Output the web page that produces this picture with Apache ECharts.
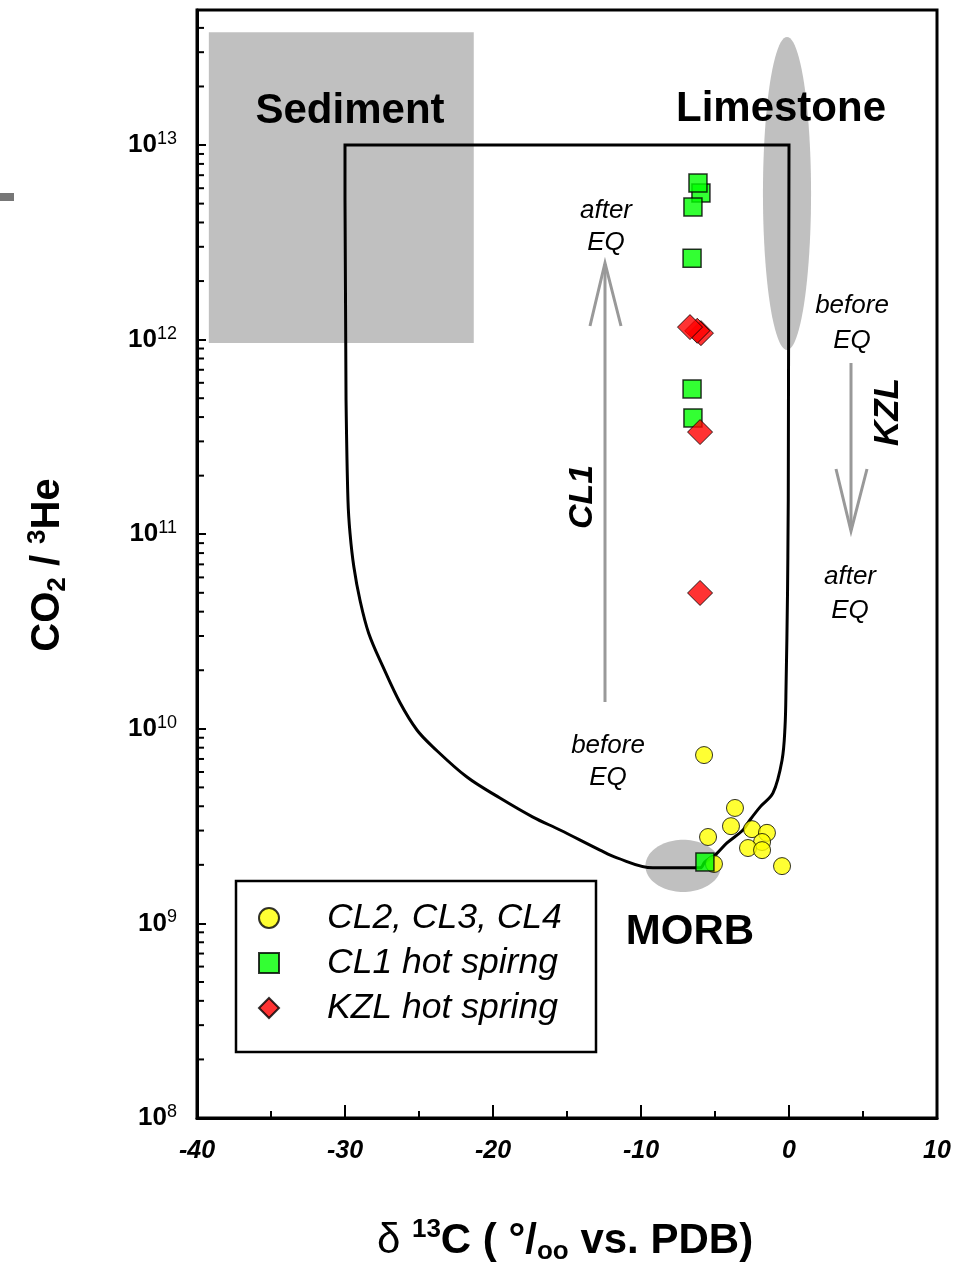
<!DOCTYPE html>
<html><head><meta charset="utf-8">
<script src="https://cdn.jsdelivr.net/npm/echarts@6/dist/echarts.min.js"></script>
<style>html,body{margin:0;padding:0;background:#fff}#c{width:958px;height:1274px}</style>
</head><body><div id="c"></div>
<script>
// ---- data ----
const cl234X = [-5.74, -3.65, -3.92, -5.47, -2.50, -1.49, -1.82, -2.77, -1.82, -0.47, -5.07];
const cl234Y = [7.33e9, 3.92e9, 3.16e9, 2.78e9, 3.05e9, 2.92e9, 2.62e9, 2.44e9, 2.38e9, 1.97e9, 2.02e9];
const cl1X = [-5.95, -6.15, -6.49, -6.55, -6.55, -6.49, -5.68];
const cl1Y = [5.67e12, 6.38e12, 4.80e12, 2.62e12, 5.58e11, 3.96e11, 2.07e9];
const kzlX = [-5.95, -6.2, -6.69, -6.01, -6.01];
const kzlY = [1.08e12, 1.11e12, 1.16e12, 3.35e11, 4.99e10];
// envelope: straight top part and curved lower part
const envTopX = [-29.93, -30, -30, 0, -0.05];
const envTopY = [4.9e11, 5.2e12, 1e13, 1e13, 1.5e11];
const envCurveX = [-0.05, -0.1, -0.2, -0.27, -0.47, -1.08, -1.96, -2.64, -3.11, -4.19, -5.0, -5.68, -6.01, -9.19, -11.62, -12.77, -15.47, -17.30, -19.53, -21.76, -24.05, -25.14, -26.28, -27.43, -28.40, -28.99, -29.40, -29.66, -29.80, -29.93];
const envCurveY = [1.5e11, 5.0e10, 1.64e10, 1.02e10, 6.9e9, 4.68e9, 3.96e9, 3.40e9, 3.02e9, 2.59e9, 2.24e9, 2.07e9, 1.93e9, 1.93e9, 2.17e9, 2.38e9, 3.02e9, 3.52e9, 4.41e9, 5.65e9, 8.06e9, 9.86e9, 1.36e10, 2.08e10, 3.10e10, 4.59e10, 6.78e10, 1.01e11, 1.50e11, 4.9e11];
// regions: [xmin, ymin, xmax, ymax]
const sedimentBox = [-39.2, 9.6e11, -21.3, 3.8e13];
const limestoneEllipse = [-1.76, 8.85e11, 1.49, 3.59e13];
const morbEllipse = [-9.7, 1.45e9, -4.6, 2.69e9];
const seriesNames = ['CL2, CL3, CL4', 'CL1 hot spirng', 'KZL hot spring'];
const xTicks = [-40, -30, -20, -10, 0, 10];
const yDecades = [8, 9, 10, 11, 12, 13];

// ---- build ----
const zip = (a, b) => a.map((v, i) => [v, b[i]]);
const yMin = 1e8, yMax = Math.pow(10, 13.694);
const minorTicks = [];
for (let d = 8; d <= 13; d++) for (let k = 2; k <= 9; k++) { const v = k * Math.pow(10, d); if (v < yMax) minorTicks.push([xTicks[0], v]); }
const FONT = "'Liberation Sans', Arial, sans-serif";

const chart = echarts.init(document.getElementById('c'), null, {renderer: 'canvas'});
const regionData = [sedimentBox.concat([0]), limestoneEllipse.concat([1]), morbEllipse.concat([1])];

chart.setOption({
  animation: false,
  backgroundColor: '#fff',
  grid: {left: 197, right: 21, top: 10, bottom: 156, show: true, borderColor: '#000', borderWidth: 3, backgroundColor: 'transparent'},
  xAxis: {
    type: 'value', min: -40, max: 10, interval: 10,
    axisLine: {show: true, onZero: false, lineStyle: {color: '#000', width: 3}},
    axisTick: {show: true, inside: true, length: 13, lineStyle: {color: '#000', width: 2}},
    minorTick: {show: true, splitNumber: 2, length: 7, lineStyle: {color: '#000', width: 2}},
    splitLine: {show: false},
    axisLabel: {margin: 21, color: '#000', fontSize: 25, fontWeight: 'bold', fontStyle: 'italic', fontFamily: FONT, showMinLabel: true, showMaxLabel: true}
  },
  yAxis: {
    type: 'log', logBase: 10, min: yMin, max: yMax,
    axisLine: {show: true, onZero: false, lineStyle: {color: '#000', width: 3}},
    axisTick: {show: true, inside: true, length: 9, lineStyle: {color: '#000', width: 2}},
    minorTick: {show: false},
    splitLine: {show: false},
    axisLabel: {
      margin: 20, color: '#000', fontFamily: FONT,
      formatter: function (v) {
        const l = Math.log10(v), e = Math.round(l);
        if (Math.abs(l - e) > 1e-6 || yDecades.indexOf(e) < 0) return '';
        return '{b|10}{s|' + e + '}';
      },
      rich: {
        b: {fontSize: 26, fontWeight: 'bold', fontFamily: FONT, color: '#000', lineHeight: 30},
        s: {fontSize: 18, fontFamily: FONT, color: '#000', lineHeight: 20, verticalAlign: 'top'}
      }
    }
  },
  legend: {
    show: true, orient: 'vertical', left: 258, top: 900, padding: 0, itemGap: 9,
    itemWidth: 20, itemHeight: 20, selectedMode: false,
    data: seriesNames,
    textStyle: {fontSize: 35.5, fontStyle: 'italic', fontFamily: FONT, color: '#000', padding: [0, 0, 0, 43]}
  },
  series: [
    {
      type: 'custom', name: 'regions', z: 1, silent: true, clip: false,
      data: regionData, encode: {x: [0, 2], y: [1, 3]},
      renderItem: function (params, api) {
        const p0 = api.coord([api.value(0), api.value(1)]);
        const p1 = api.coord([api.value(2), api.value(3)]);
        const kind = api.value(4);
        const fill = '#c0c0c0';
        if (kind === 0) {
          return {type: 'rect', shape: {x: p0[0], y: p1[1], width: p1[0] - p0[0], height: p0[1] - p1[1]}, style: {fill: fill}};
        }
        const cx = (p0[0] + p1[0]) / 2, cy = (p0[1] + p1[1]) / 2;
        const rx = Math.abs(p1[0] - p0[0]) / 2, ry = Math.abs(p1[1] - p0[1]) / 2;
        const pts = [];
        for (let i = 0; i < 96; i++) { const t = i / 96 * Math.PI * 2; pts.push([cx + rx * Math.cos(t), cy + ry * Math.sin(t)]); }
        return {type: 'polygon', shape: {points: pts}, style: {fill: fill}};
      }
    },
    {
      type: 'line', name: 'envelopeTop', z: 3, data: zip(envTopX, envTopY), symbol: 'none', silent: true,
      lineStyle: {color: '#000', width: 3, join: 'miter'}, smooth: false
    },
    {
      type: 'line', name: 'envelopeCurve', z: 3, data: zip(envCurveX, envCurveY), symbol: 'none', silent: true,
      lineStyle: {color: '#000', width: 3}, smooth: 0.35
    },
    {
      type: 'scatter', name: seriesNames[0], z: 5, data: zip(cl234X, cl234Y), symbol: 'circle', symbolSize: 17,
      itemStyle: {color: '#ffff00', borderColor: '#000', borderWidth: 1}
    },
    {
      type: 'scatter', name: seriesNames[1], z: 6, data: zip(cl1X, cl1Y), symbol: 'rect', symbolSize: 18,
      itemStyle: {color: '#00ff00', borderColor: '#000', borderWidth: 1.5}
    },
    {
      type: 'scatter', name: seriesNames[2], z: 7, data: zip(kzlX, kzlY), symbol: 'diamond', symbolSize: 25,
      itemStyle: {color: '#ff0000', borderColor: '#000', borderWidth: 1}
    },
    {
      type: 'custom', name: 'minorTicks', z: 8, silent: true, clip: false, data: minorTicks,
      renderItem: function (params, api) {
        const p = api.coord([api.value(0), api.value(1)]);
        return {type: 'line', shape: {x1: p[0] + 1, y1: p[1], x2: p[0] + 7, y2: p[1]}, style: {stroke: '#000', lineWidth: 2}};
      }
    }
  ],
  graphic: [
    {type: 'rect', left: 0, top: 193, shape: {width: 14, height: 8}, style: {fill: '#777'}},
    {type: 'rect', shape: {x: 236, y: 881, width: 360, height: 171}, style: {fill: 'none', stroke: '#000', lineWidth: 2.5}, z: 10},
    {type: 'text', x: 350, y: 111, style: {text: 'Sediment', font: 'bold 42px ' + FONT, fill: '#000', align: 'center', verticalAlign: 'middle'}, z: 10},
    {type: 'text', x: 781, y: 109, style: {text: 'Limestone', font: 'bold 42px ' + FONT, fill: '#000', align: 'center', verticalAlign: 'middle'}, z: 10},
    {type: 'text', x: 690, y: 932, style: {text: 'MORB', font: 'bold 42px ' + FONT, fill: '#000', align: 'center', verticalAlign: 'middle'}, z: 10},
    {type: 'text', x: 606, y: 227, style: {text: 'after\nEQ', font: 'italic 26px ' + FONT, lineHeight: 32, fill: '#000', align: 'center', verticalAlign: 'middle'}, z: 10},
    {type: 'text', x: 608, y: 762, style: {text: 'before\nEQ', font: 'italic 26px ' + FONT, lineHeight: 32, fill: '#000', align: 'center', verticalAlign: 'middle'}, z: 10},
    {type: 'text', x: 852, y: 323, style: {text: 'before\nEQ', font: 'italic 26px ' + FONT, lineHeight: 35, fill: '#000', align: 'center', verticalAlign: 'middle'}, z: 10},
    {type: 'text', x: 850, y: 594, style: {text: 'after\nEQ', font: 'italic 26px ' + FONT, lineHeight: 34, fill: '#000', align: 'center', verticalAlign: 'middle'}, z: 10},
    {type: 'text', x: 583, y: 497, rotation: Math.PI / 2, style: {text: 'CL1', font: 'italic bold 34px ' + FONT, fill: '#000', align: 'center', verticalAlign: 'middle'}, z: 10},
    {type: 'text', x: 888, y: 412, rotation: Math.PI / 2, style: {text: 'KZL', font: 'italic bold 35px ' + FONT, fill: '#000', align: 'center', verticalAlign: 'middle'}, z: 10},
    // arrows
    {type: 'line', shape: {x1: 605, y1: 702, x2: 605, y2: 264}, style: {stroke: '#999', lineWidth: 3}, z: 9},
    {type: 'polyline', shape: {points: [[590, 326], [605, 263], [621, 326]]}, style: {stroke: '#999', lineWidth: 3, fill: 'none'}, z: 9},
    {type: 'line', shape: {x1: 851, y1: 363, x2: 851, y2: 530}, style: {stroke: '#999', lineWidth: 3}, z: 9},
    {type: 'polyline', shape: {points: [[836, 469], [851, 531], [867, 469]]}, style: {stroke: '#999', lineWidth: 3, fill: 'none'}, z: 9},
    // axis titles
    {type: 'text', x: 565, y: 1241, z: 10, style: {
      text: '{d|δ }{sup|13}{b|C ( °/}{sub|oo}{b| vs. PDB)}', align: 'center', verticalAlign: 'middle',
      rich: {
        d: {fontSize: 42, fontFamily: FONT, fill: '#000', lineHeight: 48, verticalAlign: 'middle'},
        b: {fontSize: 42, fontWeight: 'bold', fontFamily: FONT, fill: '#000', lineHeight: 48, verticalAlign: 'middle'},
        sup: {fontSize: 26, fontWeight: 'bold', fontFamily: FONT, fill: '#000', lineHeight: 30, verticalAlign: 'top'},
        sub: {fontSize: 26, fontWeight: 'bold', fontFamily: FONT, fill: '#000', lineHeight: 26, verticalAlign: 'bottom'}
      }
    }},
    {type: 'text', x: 48, y: 565, rotation: Math.PI / 2, z: 10, style: {
      text: '{b|CO}{sub|2}{b| / }{sup|3}{b|He}', align: 'center', verticalAlign: 'middle',
      rich: {
        b: {fontSize: 40, fontWeight: 'bold', fontFamily: FONT, fill: '#000', lineHeight: 46, verticalAlign: 'middle'},
        sup: {fontSize: 26, fontWeight: 'bold', fontFamily: FONT, fill: '#000', lineHeight: 28, verticalAlign: 'top'},
        sub: {fontSize: 26, fontWeight: 'bold', fontFamily: FONT, fill: '#000', lineHeight: 26, verticalAlign: 'bottom'}
      }
    }}
  ]
});
</script>
</body></html>
